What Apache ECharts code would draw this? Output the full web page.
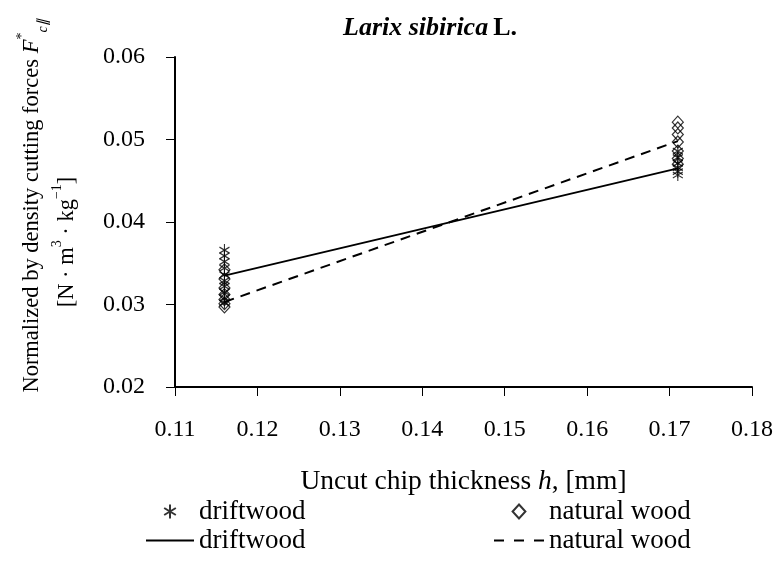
<!DOCTYPE html>
<html>
<head>
<meta charset="utf-8">
<script src="https://cdn.jsdelivr.net/npm/echarts@6/dist/echarts.min.js"></script>
<style>
  html, body { margin: 0; padding: 0; background: #fff; }
  #chart { width: 776px; height: 575px; }
</style>
</head>
<body>
<div id="chart"></div>
<script>
var xTicks = [0.11, 0.12, 0.13, 0.14, 0.15, 0.16, 0.17, 0.18];
var yTicks = [0.02, 0.03, 0.04, 0.05, 0.06];

// measured points, two thickness levels
var driftX = [0.116, 0.171];
var driftLow = [0.0366, 0.0359, 0.0352, 0.0344, 0.0336, 0.0329, 0.0322, 0.0315, 0.0308, 0.0302];
var driftHigh = [0.0486, 0.0478, 0.0471, 0.0466, 0.0461, 0.0457];
var naturalLow = [0.0342, 0.0331, 0.0320, 0.0312, 0.0306, 0.0301, 0.0297];
var naturalHigh = [0.0521, 0.0514, 0.0506, 0.0497, 0.0486, 0.0477, 0.0470];

// trend lines (end points)
var driftTrend = [0.0335, 0.0465];
var naturalTrend = [0.0303, 0.0498];

var font = 'Liberation Serif';
var asterisk = 'path://M5 0 L5 12 M0 3 L10 9 M0 9 L10 3';
var diamond = 'path://M5.5 0 L11 6 L5.5 12 L0 6 Z';

function pairs(x, vals) {
  return vals.map(function (v) { return [x, v]; });
}

var chartDom = document.getElementById('chart');
var myChart = echarts.init(chartDom);
var option;

var noSymbol = { color: 'rgba(0,0,0,0)', borderWidth: 0, opacity: 0 };

option = {
  animation: false,
  backgroundColor: '#fff',
  title: {
    text: '{it|Larix sibirica} {b|L.}',
    left: 425,
    top: 10,
    textAlign: 'center',
    textStyle: {
      rich: {
        it: { fontFamily: font, fontSize: 26, fontWeight: 'bold', fontStyle: 'italic', color: '#000' },
        b: { fontFamily: font, fontSize: 26, fontWeight: 'bold', color: '#000' }
      }
    }
  },
  grid: { left: 175, right: 17, top: 57, bottom: 188 },
  xAxis: {
    type: 'value',
    min: 0.11,
    max: 0.18,
    interval: 0.01,
    name: '{n|Uncut chip thickness }{i|h}{n|, [mm]}',
    nameLocation: 'middle',
    nameGap: 81,
    nameTextStyle: {
      rich: {
        n: { fontFamily: font, fontSize: 27.5, color: '#000' },
        i: { fontFamily: font, fontSize: 27.5, fontStyle: 'italic', color: '#000' }
      }
    },
    axisLine: { lineStyle: { color: '#000', width: 2 } },
    axisTick: { length: 9, lineStyle: { color: '#000', width: 1 } },
    splitLine: { show: false },
    axisLabel: {
      margin: 31,
      fontFamily: font,
      fontSize: 24,
      color: '#000',
      formatter: function (v) { return v.toFixed(2); }
    }
  },
  yAxis: {
    type: 'value',
    min: 0.02,
    max: 0.06,
    interval: 0.01,
    name: '{p|}{n|Normalized by density cutting forces }{i|F}{sup|*}{sub|c∥}\n{n|[N · m}{sup|3}{n| · kg}{sup|−1}{n|]}{q|}',
    nameLocation: 'middle',
    nameGap: 90,
    nameTextStyle: {
      lineHeight: 35,
      rich: {
        p: { width: 32, lineHeight: 35 },
        q: { width: 40, lineHeight: 35 },
        n: { fontFamily: font, fontSize: 22.5, color: '#000', lineHeight: 35 },
        i: { fontFamily: font, fontSize: 22.5, fontStyle: 'italic', color: '#000', lineHeight: 35 },
        sup: { fontFamily: font, fontSize: 14, color: '#000', verticalAlign: 'top', lineHeight: 35 },
        sub: { fontFamily: font, fontSize: 14, fontStyle: 'italic', color: '#000', verticalAlign: 'bottom', lineHeight: 35 }
      }
    },
    axisLine: { show: true, lineStyle: { color: '#000', width: 2 } },
    axisTick: { show: true, length: 9, lineStyle: { color: '#000', width: 1 } },
    splitLine: { show: false },
    axisLabel: {
      margin: 30,
      fontFamily: font,
      fontSize: 24,
      color: '#000',
      formatter: function (v) { return v.toFixed(2); }
    }
  },
  legend: [
    {
      orient: 'vertical',
      left: 140,
      top: 493,
      itemWidth: 48,
      itemHeight: 14,
      itemGap: 2,
      data: [
        { name: 'driftwood pts' },
        { name: 'driftwood line', itemStyle: noSymbol }
      ],
      formatter: function (name) { return name.replace(/ (pts|line)$/, ''); },
      textStyle: { fontFamily: font, fontSize: 27, color: '#000' }
    },
    {
      orient: 'vertical',
      left: 488,
      top: 493,
      itemWidth: 50,
      itemHeight: 14,
      itemGap: 2,
      data: [
        { name: 'natural wood pts' },
        { name: 'natural wood line', itemStyle: noSymbol, lineStyle: { color: '#000', width: 2, type: [10, 10] } }
      ],
      formatter: function (name) { return name.replace(/ (pts|line)$/, ''); },
      textStyle: { fontFamily: font, fontSize: 27, color: '#000' }
    }
  ],
  series: [
    {
      name: 'natural wood line',
      type: 'line',
      showSymbol: false,
      symbol: 'none',
      data: [[driftX[0], naturalTrend[0]], [driftX[1], naturalTrend[1]]],
      lineStyle: { color: '#000', width: 2, type: [10, 7] },
      itemStyle: { color: '#000' },
      z: 3
    },
    {
      name: 'driftwood line',
      type: 'line',
      showSymbol: false,
      symbol: 'none',
      data: [[driftX[0], driftTrend[0]], [driftX[1], driftTrend[1]]],
      lineStyle: { color: '#000', width: 2 },
      itemStyle: { color: '#000' },
      z: 3
    },
    {
      name: 'natural wood pts',
      type: 'scatter',
      symbol: diamond,
      symbolSize: [11, 12],
      data: pairs(driftX[0], naturalLow).concat(pairs(driftX[1], naturalHigh)),
      itemStyle: { color: 'rgba(0,0,0,0)', borderColor: '#000', borderWidth: 1.2 },
      z: 4
    },
    {
      name: 'driftwood pts',
      type: 'scatter',
      symbol: asterisk,
      symbolSize: [10, 12],
      data: pairs(driftX[0], driftLow).concat(pairs(driftX[1], driftHigh)),
      itemStyle: { color: 'rgba(0,0,0,0)', borderColor: '#000', borderWidth: 1.2 },
      z: 5
    }
  ]
};

option && myChart.setOption(option);
</script>
</body>
</html>
